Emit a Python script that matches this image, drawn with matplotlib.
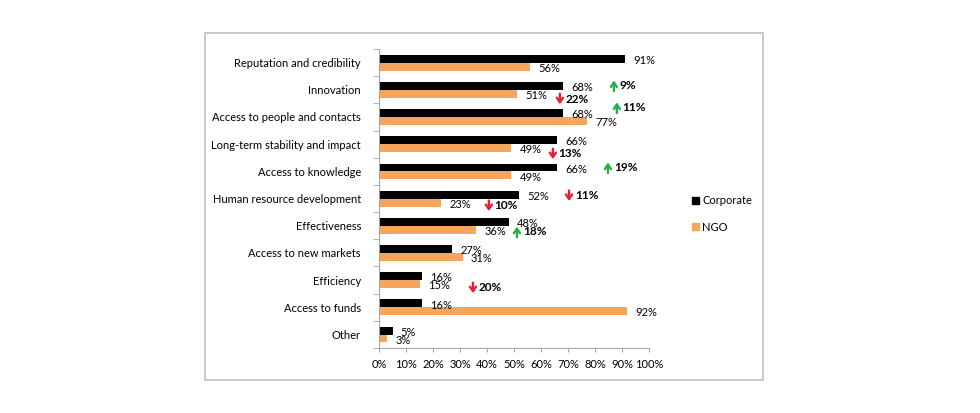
import matplotlib
matplotlib.use("Agg")
import matplotlib.pyplot as plt
from matplotlib.patches import Rectangle, Patch
from matplotlib.transforms import offset_copy
import numpy as np

categories = ["Reputation and credibility", "Innovation", "Access to people and contacts",
              "Long-term stability and impact", "Access to knowledge", "Human resource development",
              "Effectiveness", "Access to new markets", "Efficiency", "Access to funds", "Other"]
corporate = [91, 68, 68, 66, 66, 52, 48, 27, 16, 16, 5]
ngo = [56, 51, 77, 49, 49, 23, 36, 31, 15, 92, 3]
x_ticks = list(range(0, 101, 10))

# difference annotations: (label, direction)
diff_labels = ["9%", "22%", "11%", "13%", "19%", "11%", "10%", "18%", "20%"]
diff_dirs = ["up", "down", "up", "down", "up", "down", "down", "up", "down"]
# layout positions (x in %, y in category units)
diff_pos = [(87.0, 0.85), (67.0, 1.34), (88.1, 1.66), (64.4, 3.36), (84.8, 3.87),
            (70.4, 4.90), (40.7, 5.27), (51.1, 6.23), (34.8, 8.29)]

FONT = "Lato"
BLACK = "#000000"
ORANGE = "#F6A55C"
GREEN = "#22B04C"
RED = "#EE1C32"
GRAY = "#A6A6A6"

W, H = 980, 413
fig = plt.figure(figsize=(W / 100, H / 100), dpi=100)

# outer box
fig.patches.append(Rectangle((205 / W, 1 - 380 / H), (763 - 205) / W, (380 - 33) / H,
                             transform=fig.transFigure, fill=False, edgecolor="#BFBFBF", lw=1.2))

ax = fig.add_axes([379 / W, 1 - 348 / H, (649 - 379) / W, (348 - 49) / H])
n = len(categories)
y = np.arange(n)
bh = 0.29
ax.barh(y - 0.14, corporate, height=bh, color=BLACK, label="Corporate", zorder=2)
ax.barh(y + 0.15, ngo, height=bh, color=ORANGE, label="NGO", zorder=2)

ax.set_xlim(0, 100)
ax.set_ylim(n - 0.5, -0.5)

for i in range(n):
    ax.annotate(f"{corporate[i]}%", (corporate[i], i - 0.14), xytext=(6, -1.2),
                textcoords="offset points", va="center", ha="left",
                fontsize=8, family=FONT, zorder=5, annotation_clip=False)
    ax.annotate(f"{ngo[i]}%", (ngo[i], i + 0.15), xytext=(6, -1.2),
                textcoords="offset points", va="center", ha="left",
                fontsize=8, family=FONT, zorder=5, annotation_clip=False)

half = 3.8  # half arrow length in points
for lab, d, (px, py) in zip(diff_labels, diff_dirs, diff_pos):
    sgn = 1 if d == "up" else -1
    tip_tr = offset_copy(ax.transData, fig=fig, x=0, y=sgn * half, units="points")
    ax.annotate("", xy=(px, py), xycoords=tip_tr,
                xytext=(0, -2 * sgn * half), textcoords="offset points",
                arrowprops=dict(arrowstyle="->,head_length=0.32,head_width=0.22",
                                color=GREEN if d == "up" else RED, lw=1.7,
                                shrinkA=0, shrinkB=0),
                zorder=6, annotation_clip=False)
    ax.annotate(lab, (px, py), xytext=(4.2, 0), textcoords="offset points",
                va="center", ha="left", fontsize=8.5, fontweight="bold", family=FONT,
                zorder=6, annotation_clip=False)

# axes styling
for s in ["top", "right"]:
    ax.spines[s].set_visible(False)
ax.spines["left"].set_color(GRAY)
ax.spines["bottom"].set_color(GRAY)
ax.set_xticks(x_ticks)
ax.set_xticklabels([f"{t}%" for t in x_ticks], fontsize=8, family=FONT)
ax.tick_params(axis="x", length=3, color=GRAY, pad=5)
ax.set_yticks(y)
ax.set_yticklabels(categories, fontsize=8, family=FONT)
ax.set_yticks(np.arange(-0.5, n, 1), minor=True)
ax.tick_params(axis="y", which="major", length=0, pad=13)
ax.tick_params(axis="y", which="minor", length=4, color=GRAY)

handles = [Patch(color=BLACK, label="Corporate"), Patch(color=ORANGE, label="NGO")]
fig.legend(handles=handles, loc="upper left", bbox_to_anchor=(682 / W, 1 - 185 / H),
           frameon=False, handlelength=0.6, handleheight=0.6, handletextpad=0.3,
           labelspacing=1.4, prop={"family": FONT, "size": 8})

fig.savefig("out.png", dpi=100)
